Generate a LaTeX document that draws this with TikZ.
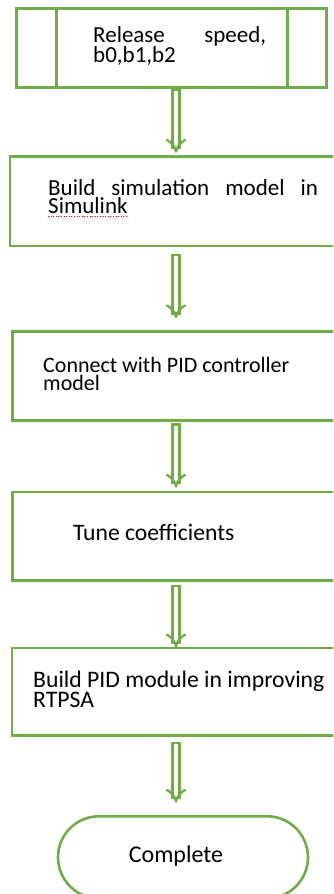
\documentclass[tikz,border=0pt]{standalone}
\usepackage{fontspec}
\setmainfont{Carlito}
\usetikzlibrary{arrows.meta,shapes.misc}
\definecolor{flowgreen}{RGB}{112,173,71}
\newcommand{\flowfont}[1][23]{\fontsize{#1}{18}\selectfont}

\begin{document}
\begin{tikzpicture}[x=1pt,y=1pt,
    stepbox/.style={draw=flowgreen, line width=2.6pt, rectangle, inner sep=0pt, outer sep=0pt},
    endbox/.style={draw=flowgreen, line width=2.6pt, rounded rectangle, inner sep=0pt, outer sep=0pt},
    steptext/.style={font=\flowfont, inner sep=0pt, anchor=base west},
    flowarrow/.style={draw=flowgreen, line width=2.4pt, double=white, double distance=4.4pt,
      line cap=rect, -{Implies[length=10pt,width=24pt]}}]
  \useasboundingbox (0,0) rectangle (333,-894);
  \clip (0,0) rectangle (333,-894);
  \coordinate (axis) at (176,0);
  % boxes
  \node[stepbox, minimum width=310pt, minimum height=78.6pt] (input) at (171.3,-48) {};
  \draw[flowgreen, line width=2.6pt] ([xshift=40.4pt]input.north west) -- ([xshift=40.4pt]input.south west);
  \draw[flowgreen, line width=2.6pt] ([xshift=-39pt]input.north east) -- ([xshift=-39pt]input.south east);
  \node[stepbox, minimum width=335pt, minimum height=89.3pt] (model) at (177.5,-201.35) {};
  \node[stepbox, minimum width=332.7pt, minimum height=89.4pt] (connect) at (178.65,-376) {};
  \node[stepbox, minimum width=332.7pt, minimum height=88.7pt] (tune) at (178.65,-536.35) {};
  \node[stepbox, minimum width=333pt, minimum height=87.3pt] (module) at (178.5,-691.65) {};
  \node[endbox, minimum width=250pt, minimum height=82pt] (done) at (183,-857.3) {};
  % texts
  \node[steptext] (inputtext) at (93,-42.3) {\parbox[t]{173pt}{\makebox[173pt][s]{Release speed,}\\b0,b1,b2}};
  \node[steptext] (modeltext) at (48,-195) {\parbox[t]{270pt}{\makebox[270pt][s]{Build simulation model in}\\Simulink}};
  \draw[red, line width=1pt, dash pattern=on 1pt off 1.6pt] ([yshift=-21pt]modeltext.base west) -- ++(79,0);
  \node[steptext, font={\flowfont[22]}] (connecttext) at (43,-372.3) {\parbox[t]{290pt}{Connect with PID controller\\model}};
  \node[steptext, font={\flowfont[23.6]}] (tunetext) at (73,-540.7) {Tune coefficients};
  \node[steptext, font={\flowfont[23.7]}] (moduletext) at (33,-687.3) {\parbox[t]{300pt}{Build PID module in improving\\RTPSA}};
  \node[steptext, font={\flowfont[24]}, anchor=base] (donetext) at (176,-862.7) {Complete};
  % arrows
  \draw[flowarrow, shorten <=5.9pt, shorten >=4pt] (input.south -| axis) -- (model.north -| axis);
  \draw[flowarrow, shorten <=12.6pt, shorten >=13pt] (model.south -| axis) -- (connect.north -| axis);
  \draw[flowarrow, shorten <=7.2pt, shorten >=4.3pt] (connect.south -| axis) -- (tune.north -| axis);
  \draw[flowarrow, shorten <=8.9pt, shorten >=0.5pt] (tune.south -| axis) -- (module.north -| axis);
  \draw[flowarrow, shorten <=11pt, shorten >=13.6pt] (module.south -| axis) -- (done.north -| axis);
\end{tikzpicture}
\end{document}
